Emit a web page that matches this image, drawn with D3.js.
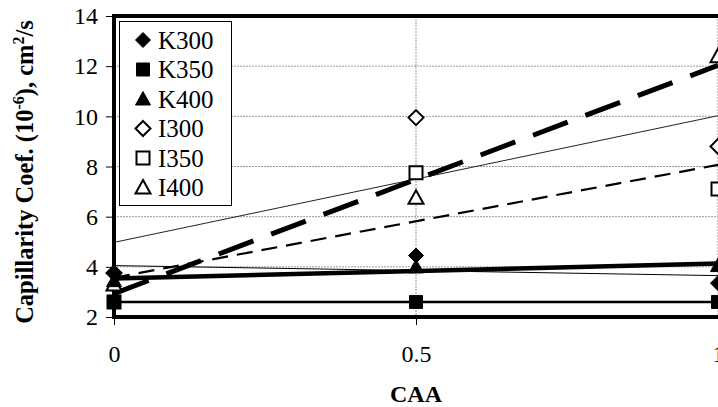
<!DOCTYPE html>
<html>
<head>
<meta charset="utf-8">
<script src="https://cdn.jsdelivr.net/npm/d3@7"></script>
<style>
  body { margin: 0; background: #fff; }
</style>
</head>
<body>
<div class="container"></div>
<script>
// data
var caa = [0, 0.5, 1];
var seriesNames = ["K300", "K350", "K400", "I300", "I350", "I400"];
var k300 = [3.75, 4.45, 3.35];
var k350 = [2.6, 2.6, 2.6];
var k400 = [3.45, 4.0, 4.05];
var i300 = [3.75, 9.95, 8.8];
var i350 = [2.6, 7.75, 7.1];
var i400 = [3.3, 6.75, 12.4];
var yTicks = [2, 4, 6, 8, 10, 12, 14];
var xTicks = [0, 0.5, 1];

var w = 718;
var h = 407;
var serif = "'Liberation Serif', 'Times New Roman', serif";

var x = d3.scaleLinear().domain([0, 1]).range([114, 718]);
var y = d3.scaleLinear().domain([2, 14]).range([317, 16]);

var svg = d3.select(".container")
    .append("svg")
    .attr("width", w)
    .attr("height", h);

// grid
svg.selectAll(".hgrid")
    .data(yTicks.slice(1, -1))
    .enter().append("line")
    .attr("class", "hgrid")
    .attr("x1", x(0)).attr("x2", w)
    .attr("y1", function(d) { return y(d); })
    .attr("y2", function(d) { return y(d); })
    .attr("stroke", "#999")
    .attr("stroke-dasharray", "2,1");

svg.selectAll(".vgrid")
    .data([0.5, 1])
    .enter().append("line")
    .attr("class", "vgrid")
    .attr("x1", function(d) { return x(d); })
    .attr("x2", function(d) { return x(d); })
    .attr("y1", y(14)).attr("y2", y(2))
    .attr("stroke", "#999")
    .attr("stroke-dasharray", "2,1");

// axes
var yAxis = svg.append("g")
    .attr("transform", "translate(" + x(0) + ",0)")
    .call(d3.axisLeft(y).tickValues(yTicks).tickSize(8).tickPadding(8));
yAxis.select(".domain").remove();
yAxis.selectAll("text").attr("font-size", 24).attr("fill", "#000");

var xAxis = svg.append("g")
    .attr("transform", "translate(0," + y(2) + ")")
    .call(d3.axisBottom(x).tickValues(xTicks).tickFormat(d3.format("")).tickSize(8).tickPadding(20));
xAxis.select(".domain").remove();
xAxis.selectAll("text").attr("font-size", 24).attr("fill", "#000");

// trendlines (least squares through each series)
function fit(vals) {
  var mx = d3.mean(caa), my = d3.mean(vals);
  var num = 0, den = 0;
  for (var i = 0; i < caa.length; i++) {
    num += (caa[i] - mx) * (vals[i] - my);
    den += (caa[i] - mx) * (caa[i] - mx);
  }
  var b = num / den;
  return [[0, my - b * mx], [1, my + b * (1 - mx)]];
}

var allSeries = [k300, k350, k400, i300, i350, i400];
var lineStyles = [
  { width: 1, dash: null, color: "#000" },
  { width: 2.5, dash: null, color: "#000" },
  { width: 4.5, dash: null, color: "#000" },
  { width: 1, dash: null, color: "#222" },
  { width: 2.2, dash: "16,9", color: "#000" },
  { width: 5, dash: "37,19", color: "#000" }
];

var line = d3.line()
    .x(function(d) { return x(d[0]); })
    .y(function(d) { return y(d[1]); });

svg.selectAll(".trend")
    .data(allSeries)
    .enter().append("path")
    .attr("class", "trend")
    .attr("fill", "none")
    .attr("stroke", function(d, i) { return lineStyles[i].color; })
    .attr("stroke-width", function(d, i) { return lineStyles[i].width; })
    .attr("stroke-dasharray", function(d, i) { return lineStyles[i].dash; })
    .attr("d", function(d) { return line(fit(d)); });

// plot frame (thick left, top, bottom)
svg.append("line").attr("x1", x(0)).attr("x2", w).attr("y1", y(14)).attr("y2", y(14))
    .attr("stroke", "#000").attr("stroke-width", 4);
svg.append("line").attr("x1", x(0)).attr("x2", w).attr("y1", y(2)).attr("y2", y(2))
    .attr("stroke", "#000").attr("stroke-width", 4);
svg.append("line").attr("x1", x(0)).attr("x2", x(0)).attr("y1", y(14) - 2).attr("y2", y(2) + 2)
    .attr("stroke", "#000").attr("stroke-width", 4);

// markers
var shapes = ["diamond", "square", "triangle", "diamond", "square", "triangle"];
var filled = [true, true, true, false, false, false];

function markerPath(shape) {
  if (shape === "diamond") return "M0,-7.5L7.5,0L0,7.5L-7.5,0Z";
  if (shape === "square") return "M-6.5,-6.5H6.5V6.5H-6.5Z";
  return "M0,-7.5L7.5,6L-7.5,6Z";
}

function drawMarker(g, i) {
  g.append("path")
    .attr("d", markerPath(shapes[i]))
    .attr("fill", filled[i] ? "#000" : "#fff")
    .attr("stroke", "#000")
    .attr("stroke-width", filled[i] ? 1 : 2);
}

// open (I) markers first, filled (K) on top
[3, 4, 5, 0, 1, 2].forEach(function(i) {
  allSeries[i].forEach(function(v, j) {
    var g = svg.append("g").attr("transform", "translate(" + x(caa[j]) + "," + y(v) + ")");
    drawMarker(g, i);
  });
});

// legend
var legend = svg.append("g").attr("class", "key");
legend.append("rect")
    .attr("x", 119.5).attr("y", 21.5)
    .attr("width", 112).attr("height", 184)
    .attr("fill", "#fff").attr("stroke", "#000");

seriesNames.forEach(function(name, i) {
  var ly = 40 + i * 29.5;
  var g = legend.append("g").attr("transform", "translate(143," + ly + ")");
  drawMarker(g, i);
  legend.append("text")
      .attr("x", 158).attr("y", ly + 8.5)
      .attr("font-size", 25)
      .attr("fill", "#000")
      .text(name);
});

// axis titles
svg.append("text")
    .attr("x", x(0.5)).attr("y", 402)
    .attr("text-anchor", "middle")
    .attr("font-size", 24)
    .attr("font-weight", "bold")
    .text("CAA");

var yt = svg.append("text")
    .attr("transform", "translate(33,172) rotate(-90)")
    .attr("text-anchor", "middle")
    .attr("font-size", 24.5)
    .attr("font-weight", "bold");
yt.append("tspan").text("Capillarity Coef. (10");
yt.append("tspan").attr("dy", -9).attr("font-size", 16).text("-6");
yt.append("tspan").attr("dy", 9).text("), cm");
yt.append("tspan").attr("dy", -9).attr("font-size", 16).text("2");
yt.append("tspan").attr("dy", 9).text("/s");

svg.selectAll("text").style("font-family", serif);
svg.selectAll("tspan").style("font-family", serif);
</script>
</body>
</html>
